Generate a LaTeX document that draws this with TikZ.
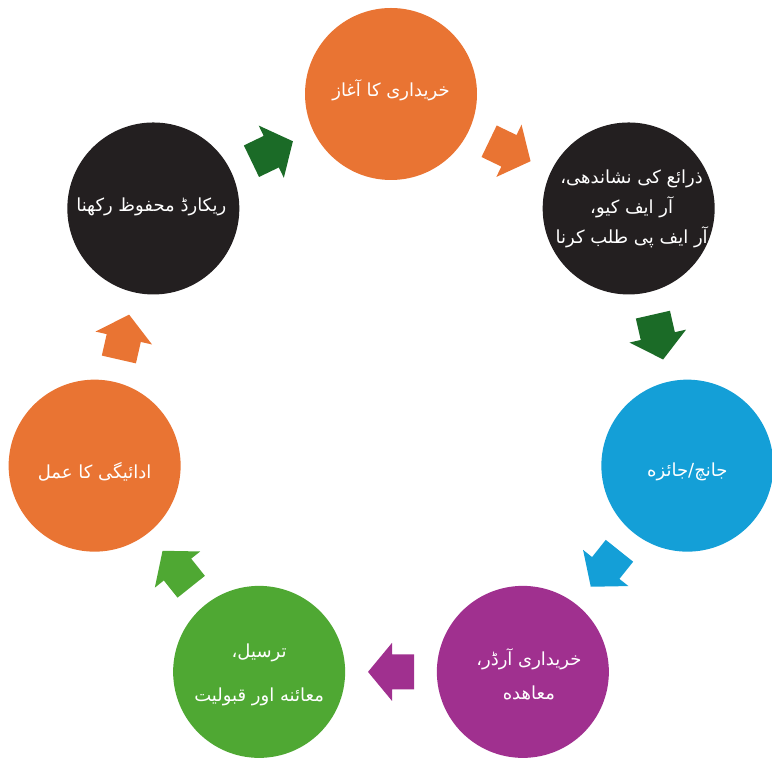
\documentclass[tikz,border=0pt]{standalone}
\usepackage{fontspec}
\newfontfamily\urdu[Script=Arabic]{DejaVu Sans}
\TeXXeTstate=1
\usetikzlibrary{calc}
\definecolor{corange}{HTML}{E97433}
\definecolor{cblack}{HTML}{231F20}
\definecolor{cblue}{HTML}{149FD7}
\definecolor{cpurple}{HTML}{A0308F}
\definecolor{cgreen}{HTML}{4FA833}
\definecolor{cdgreen}{HTML}{1B6B27}
\tikzset{
  circ/.style={circle, minimum size=172pt, inner sep=0pt},
  lbl/.style={text=white, align=center, inner sep=0pt, font=\urdu\fontsize{18}{30}\selectfont},
}
\newcommand\blockarrow[4]{%
  \fill[#3, shift={($(#1)!0.5!(#2)$)}, rotate=#4]
    (-23,-17.5) -- (-1,-17.5) -- (-1,-29) -- (23,0) -- (-1,29) -- (-1,17.5) -- (-23,17.5) -- cycle;}
\begin{document}
\begin{tikzpicture}[x=1pt,y=1pt]
\useasboundingbox (0,0) rectangle (772,758);
\coordinate (O) at (391,360);
\node[circ, fill=corange] (c1) at ($(O)+(90:304)$) {};
\node[circ, fill=cblack] (c2) at ($(O)+(38.57:304)$) {};
\node[circ, fill=cblue] (c3) at ($(O)+(-12.86:304)$) {};
\node[circ, fill=cpurple] (c4) at ($(O)+(-64.29:304)$) {};
\node[circ, fill=cgreen] (c5) at ($(O)+(-115.71:304)$) {};
\node[circ, fill=corange] (c6) at ($(O)+(-167.14:304)$) {};
\node[circ, fill=cblack] (c7) at ($(O)+(141.43:304)$) {};
\node[lbl] (t1) at ($(c1)+(0,4)$) {\beginR خریداری کا آغاز\endR};
\node[lbl] (t2) at ($(c2)+(3,0)$) {\beginR ذرائع کی نشاندهی،\endR\\\beginR آر ایف کیو،\endR\\\beginR آر ایف پی طلب کرنا\endR};
\node[lbl] (t3) at ($(c3)+(0,-6)$) {\beginR جانچ/جائزه\endR};
\node[lbl, font=\urdu\fontsize{18}{34}\selectfont] (t4) at ($(c4)+(6,-2)$) {\beginR خریداری آرڈر،\endR\\\beginR معاهده\endR};
\node[lbl, font=\urdu\fontsize{18}{44}\selectfont] (t5) at ($(c5)+(0,-3)$) {\beginR ترسیل،\endR\\\beginR معائنه اور قبولیت\endR};
\node[lbl] (t6) at ($(c6)+(0,-6)$) {\beginR ادائیگی کا عمل\endR};
\node[lbl] (t7) at ($(c7)+(-2,2)$) {\beginR ریکارڈ محفوظ رکھنا\endR};
\blockarrow{c1}{c2}{corange}{-25.71}
\blockarrow{c2}{c3}{cdgreen}{-77.14}
\blockarrow{c3}{c4}{cblue}{-128.57}
\blockarrow{c4}{c5}{cpurple}{-180}
\blockarrow{c5}{c6}{cgreen}{-231.43}
\blockarrow{c6}{c7}{corange}{-282.86}
\blockarrow{c7}{c1}{cdgreen}{-334.29}
\end{tikzpicture}
\end{document}
